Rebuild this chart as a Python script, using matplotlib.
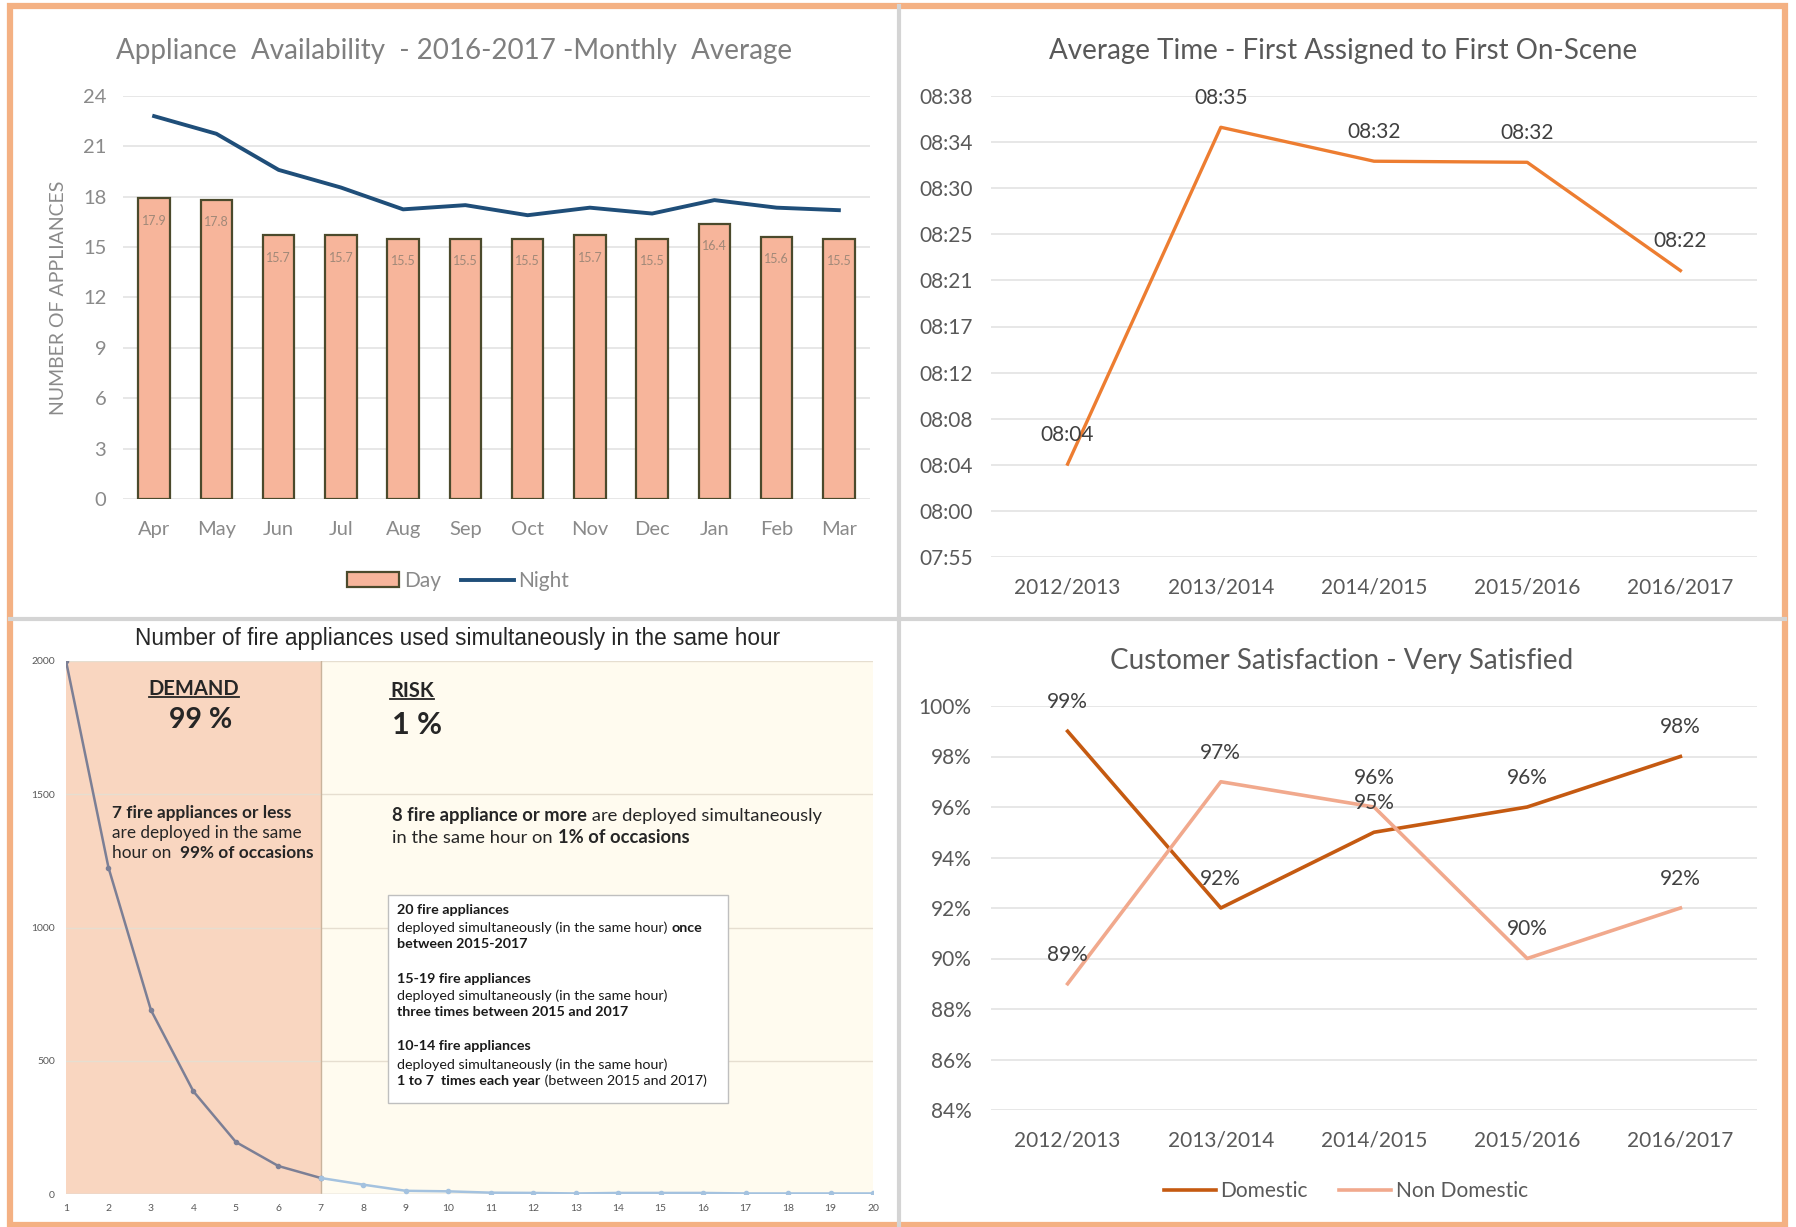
import numpy as np
import matplotlib.pyplot as plt
from matplotlib.patches import Rectangle, Patch
from matplotlib.lines import Line2D

W, H = 1796, 1227

# appliance availability (top left)
months = ['Apr', 'May', 'Jun', 'Jul', 'Aug', 'Sep', 'Oct', 'Nov', 'Dec', 'Jan', 'Feb', 'Mar']
day = [17.9, 17.8, 15.7, 15.7, 15.5, 15.5, 15.5, 15.7, 15.5, 16.4, 15.6, 15.5]
night = [22.8, 21.75, 19.6, 18.55, 17.25, 17.5, 16.9, 17.35, 17.0, 17.8, 17.35, 17.2]

# average time first assigned -> first on scene (top right)
years = ['2012/2013', '2013/2014', '2014/2015', '2015/2016', '2016/2017']
resp_time = ['08:03:40', '08:35:05', '08:31:55', '08:31:49', '08:21:43']
time_ticks = ['07:55', '08:00', '08:04', '08:08', '08:12', '08:17',
              '08:21', '08:25', '08:30', '08:34', '08:38']

# simultaneous appliances (bottom left)
n_appl = list(range(1, 21))
n_hours = [2000, 1225, 690, 385, 195, 105, 60, 35, 12, 10, 5, 4, 2, 4, 4, 4, 2, 2, 2, 2]

# customer satisfaction (bottom right)
domestic = [99, 92, 95, 96, 98]
non_domestic = [89, 97, 96, 90, 92]

CAL = 'Lato'
ARIAL = 'Liberation Sans'


def to_min(s):
    h, m, sec = [int(v) for v in s.split(':')]
    return h * 60 + m + sec / 60.0


def fmt_min(v):
    v = int(round(v))
    return '%02d:%02d' % (v // 60, v % 60)


def px_axes(l, t, r, b):
    return fig.add_axes([l / W, 1 - b / H, (r - l) / W, (b - t) / H])


def rich(ax, x, y, parts, **kw):
    # chain text pieces so bold / normal can share one line
    s, w = parts[0]
    t = ax.text(x, y, s, fontweight=w, va='bottom', **kw)
    for s, w in parts[1:]:
        t = ax.annotate(s, xy=(1, 0), xycoords=t, fontweight=w, va='bottom', **kw)
    return t


def excel_style(ax, gridc='#E3E3E3'):
    for sp in ax.spines.values():
        sp.set_visible(False)
    ax.tick_params(length=0)
    ax.grid(axis='y', color=gridc, lw=1.2)
    ax.set_axisbelow(True)


fig = plt.figure(figsize=(W / 100, H / 100), dpi=100)
fig.patch.set_facecolor('white')

# ---------------- top left ----------------
ax1 = px_axes(123, 96, 870, 499)
excel_style(ax1)
x = np.arange(len(months))
ax1.bar(x, day, width=0.51, color='#F7B59B', edgecolor='#4B4A2C', lw=1.6, zorder=2)
ax1.plot(x, night, color='#1F4E79', lw=2.8, zorder=3)
for xi, v in zip(x, day):
    ax1.annotate('%.1f' % v, (xi, v), xytext=(0, -16), textcoords='offset points',
                 ha='center', va='center', fontsize=9, color='#A08878', family=CAL)
ax1.set_xlim(-0.5, 11.5)
ax1.set_ylim(0, 24)
ax1.set_yticks(range(0, 25, 3))
ax1.set_xticks(x)
ax1.set_xticklabels(months)
ax1.tick_params(axis='y', pad=12, labelsize=14.5, labelcolor='#8A8A8A')
ax1.tick_params(axis='x', pad=16, labelsize=14.5, labelcolor='#8A8A8A')
for lab in ax1.get_xticklabels() + ax1.get_yticklabels():
    lab.set_family(CAL)
ax1.set_ylabel('NUMBER OF APPLIANCES', family=CAL, fontsize=14, color='#8A8A8A')
ax1.yaxis.set_label_coords((67 - 123) / 747, 0.5)
fig.text(454 / W, 1 - 51 / H, 'Appliance  Availability  - 2016-2017 -Monthly  Average',
         ha='center', va='center', fontsize=20, color='#7F7F7F', family=CAL)
fig.legend(handles=[Patch(facecolor='#F7B59B', edgecolor='#4B4A2C', lw=1.6, label='Day'),
                    Line2D([], [], color='#1F4E79', lw=2.8, label='Night')],
           loc='center', bbox_to_anchor=(458 / W, 1 - 581 / H), ncol=2, frameon=False,
           prop={'family': CAL, 'size': 15}, labelcolor='#8A8A8A',
           handlelength=2.5, handletextpad=0.2, columnspacing=1.0)

# ---------------- top right ----------------
ax2 = px_axes(991, 96, 1757, 557)
excel_style(ax2)
tvals = [to_min(s) for s in resp_time]
xs = np.arange(len(years))
ax2.plot(xs, tvals, color='#ED7D31', lw=2.4, zorder=3)
for xi, v in zip(xs, tvals):
    ax2.annotate(fmt_min(v), (xi, v), xytext=(0, 21), textcoords='offset points',
                 ha='center', va='center', fontsize=15, color='#404040', family=CAL)
ax2.set_xlim(-0.5, 4.5)
ax2.set_ylim(475, 518)
ax2.set_yticks(np.linspace(475, 518, len(time_ticks)))
ax2.set_yticklabels(time_ticks)
ax2.set_xticks(xs)
ax2.set_xticklabels(years)
ax2.tick_params(axis='y', pad=13, labelsize=15, labelcolor='#595959')
ax2.tick_params(axis='x', pad=15, labelsize=15, labelcolor='#595959')
for lab in ax2.get_xticklabels() + ax2.get_yticklabels():
    lab.set_family(CAL)
fig.text(1343 / W, 1 - 51 / H, 'Average Time - First Assigned to First On-Scene',
         ha='center', va='center', fontsize=20, color='#595959', family=CAL)

# ---------------- bottom left ----------------
ax3 = px_axes(66, 661, 873, 1194)
for sp in ax3.spines.values():
    sp.set_visible(False)
ax3.tick_params(length=0)
ax3.grid(axis='y', color='#E6DED0', lw=1)
ax3.set_axisbelow(True)
ax3.axvspan(1, 7, color='#F9D6C0', zorder=0.2, lw=0)
ax3.axvspan(7, 20, color='#FFFBEF', zorder=0.2, lw=0)
ax3.axvline(7, color='#C9B39C', lw=1, zorder=1)
ax3.axhline(0, color='#D9D9D9', lw=1, zorder=1)
ax3.plot(n_appl[:7], n_hours[:7], color='#7C7F95', lw=1.8, marker='o', ms=3, zorder=3)
ax3.plot(n_appl[6:], n_hours[6:], color='#A4C2DF', lw=1.8, marker='o', ms=3, zorder=3)
ax3.set_xlim(1, 20)
ax3.set_ylim(0, 2000)
ax3.set_xticks(n_appl)
ax3.set_yticks(range(0, 2001, 500))
ax3.tick_params(axis='x', pad=7, labelsize=7.5, labelcolor='#595959')
ax3.tick_params(axis='y', pad=8, labelsize=7.5, labelcolor='#595959')
for lab in ax3.get_xticklabels() + ax3.get_yticklabels():
    lab.set_family(CAL)
fig.text(458 / W, 1 - 639 / H, 'Number of fire appliances used simultaneously in the same hour',
         ha='center', va='center', fontsize=16.3, color='#262626', family=ARIAL)

tc = '#262626'
head1 = ax3.text(4.01, 1895, 'DEMAND', ha='center', va='center', fontsize=14.5,
                 fontweight='bold', color=tc, family=CAL)
ax3.text(4.18, 1780, '99 %', ha='center', va='center', fontsize=20.5,
         fontweight='bold', color=tc, family=CAL)
head2 = ax3.text(8.63, 1887, 'RISK', ha='left', va='center', fontsize=14.5,
                 fontweight='bold', color=tc, family=CAL)
ax3.text(8.68, 1760, '1 %', ha='left', va='center', fontsize=22,
         fontweight='bold', color=tc, family=CAL)

kw = dict(fontsize=12.4, color=tc, family=CAL)
rich(ax3, 2.08, 1400, [('7 fire appliances or less', 'bold')], **kw)
rich(ax3, 2.08, 1325, [('are deployed in the same', 'normal')], **kw)
rich(ax3, 2.08, 1250, [('hour on  ', 'normal'), ('99% of occasions', 'bold')], **kw)
kw['fontsize'] = 13.2
rich(ax3, 8.68, 1390, [('8 fire appliance or more', 'bold'),
                       (' are deployed simultaneously', 'normal')], **kw)
rich(ax3, 8.68, 1307, [('in the same hour on ', 'normal'), ('1% of occasions', 'bold')], **kw)

ax3.add_patch(Rectangle((8.57, 341), 8.02, 781, facecolor='white',
                        edgecolor='#BFBFBF', lw=1, zorder=4))
kb = dict(fontsize=10.3, color='#1A1A1A', family=CAL, zorder=5)
box_lines = [
    (1045, [('20 fire appliances', 'bold')]),
    (974, [('deployed simultaneously (in the same hour) ', 'normal'), ('once', 'bold')]),
    (914, [('between 2015-2017', 'bold')]),
    (786, [('15-19 fire appliances', 'bold')]),
    (719, [('deployed simultaneously (in the same hour)', 'normal')]),
    (659, [('three times between 2015 and 2017', 'bold')]),
    (531, [('10-14 fire appliances', 'bold')]),
    (463, [('deployed simultaneously (in the same hour)', 'normal')]),
    (400, [('1 to 7  times each year', 'bold'), (' (between 2015 and 2017)', 'normal')]),
]
for yy, parts in box_lines:
    rich(ax3, 8.8, yy, parts, **kb)

# ---------------- bottom right ----------------
ax4 = px_axes(991, 706, 1757, 1110)
excel_style(ax4)
ax4.plot(xs, domestic, color='#C55A11', lw=2.6, zorder=3, label='Domestic')
ax4.plot(xs, non_domestic, color='#F1A98D', lw=2.6, zorder=3, label='Non Domestic')
for series in (domestic, non_domestic):
    for xi, v in zip(xs, series):
        ax4.annotate('%d%%' % v, (xi, v), xytext=(0, 21), textcoords='offset points',
                     ha='center', va='center', fontsize=15, color='#404040', family=CAL)
ax4.set_xlim(-0.5, 4.5)
ax4.set_ylim(84, 100)
ax4.set_yticks(range(84, 101, 2))
ax4.set_yticklabels(['%d%%' % v for v in range(84, 101, 2)])
ax4.set_xticks(xs)
ax4.set_xticklabels(years)
ax4.tick_params(axis='y', pad=14, labelsize=15, labelcolor='#595959')
ax4.tick_params(axis='x', pad=15, labelsize=15, labelcolor='#595959')
for lab in ax4.get_xticklabels() + ax4.get_yticklabels():
    lab.set_family(CAL)
fig.text(1342 / W, 1 - 661 / H, 'Customer Satisfaction - Very Satisfied',
         ha='center', va='center', fontsize=20, color='#595959', family=CAL)
fig.legend(handles=ax4.get_lines(), loc='center', bbox_to_anchor=(1346 / W, 1 - 1191 / H),
           ncol=2, frameon=False, prop={'family': CAL, 'size': 15}, labelcolor='#595959',
           handlelength=2.5, handletextpad=0.2, columnspacing=1.5)

# frame and dividers
fig.add_artist(Line2D([899 / W, 899 / W], [1 - 6 / H, 1 - 1225 / H], color='#D4D4D4', lw=3))
fig.add_artist(Line2D([10 / W, 1785 / W], [1 - 619 / H, 1 - 619 / H], color='#D4D4D4', lw=3))
fig.add_artist(Rectangle((10 / W, 1 - 1225 / H), 1775 / W, 1219 / H, fill=False,
                         edgecolor='#F4B183', lw=4.5, transform=fig.transFigure))

# underline the two headings
fig.canvas.draw()
inv = ax3.transData.inverted()
for t in (head1, head2):
    bb = t.get_window_extent()
    (x0, y0), (x1, _) = inv.transform([(bb.x0, bb.y0 + 2), (bb.x1, bb.y0)])
    ax3.plot([x0, x1], [y0, y0], color=tc, lw=1.3, zorder=5)

fig.savefig('out.png', dpi=100)
